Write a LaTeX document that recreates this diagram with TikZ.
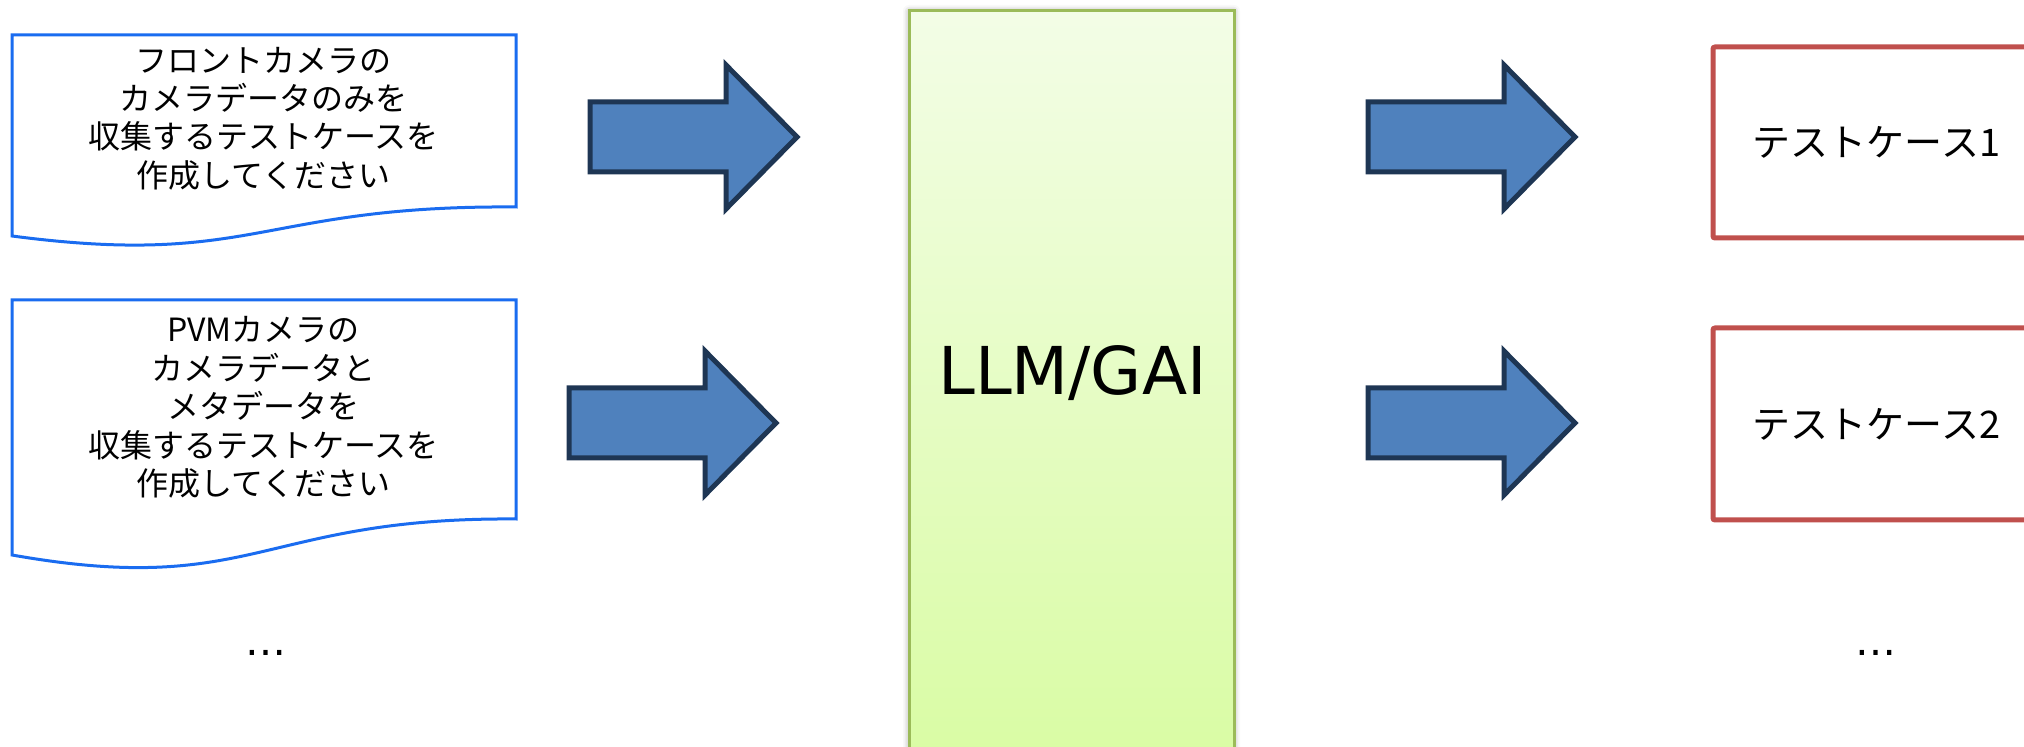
\documentclass[tikz,border=0pt]{standalone}
\usepackage{fontspec}
\usetikzlibrary{shadows.blur}
\newfontfamily\jpfont{Noto Sans CJK JP}
\newfontfamily\latinfont{DejaVu Sans}
\definecolor{docBlue}{RGB}{26,108,240}
\definecolor{arrowFill}{RGB}{79,129,189}
\definecolor{arrowLine}{RGB}{30,54,84}
\definecolor{llmLine}{RGB}{155,187,89}
\definecolor{llmTop}{RGB}{243,253,230}
\definecolor{llmBottom}{RGB}{217,252,164}
\definecolor{caseRed}{RGB}{192,80,77}

\tikzset{
  doctext/.style={align=center,font=\jpfont\fontsize{16}{19.2}\selectfont,inner sep=0pt},
  docframe/.style={draw=docBlue,line width=1.5pt,fill=white},
  bigarrow/.style={draw=arrowLine,fill=arrowFill,line width=2.5pt},
  llmbox/.style={draw=llmLine,line width=1.5pt,top color=llmTop,bottom color=llmBottom,
    minimum width=162.5pt,minimum height=374.5pt,inner sep=0pt,
    blur shadow={shadow xshift=0pt,shadow yshift=0pt,shadow blur radius=3pt}},
  llmlabel/.style={font=\latinfont\fontsize{33}{40}\selectfont,inner sep=0pt,anchor=base},
  casebox/.style={draw=caseRed,line width=2.5pt,rounded corners=1pt,minimum width=163.5pt,
    font=\jpfont\fontsize{19}{23}\selectfont},
  moretext/.style={font=\latinfont\fontsize{20.5}{24}\selectfont,inner sep=0pt}
}

\begin{document}
\begin{tikzpicture}[x=0.5pt,y=-0.5pt]
\useasboundingbox (0,0) rectangle (2024,747);
\clip (0,0) rectangle (2024,747);

% requests
\draw[docframe] (12,35) -- (516,35) -- (516,207) .. controls (260,205) and (255,268) .. (12,236) -- cycle;
\node[doctext] (docA) at (263.5,118.5) {フロントカメラの\\カメラデータのみを\\収集するテストケースを\\作成してください};
\draw[docframe] (12,300) -- (516,300) -- (516,519) .. controls (260,517) and (255,598) .. (12,555) -- cycle;
\node[doctext] (docB) at (263.5,407.5) {PVMカメラの\\カメラデータと\\メタデータを\\収集するテストケースを\\作成してください};
\node[moretext] (moreDocs) at (266,653) {…};

% model
\node[llmbox] (llm) at (1071.5,385.5) {};
\node[llmlabel] (llmName) at (1072.5,395) {LLM/GAI};

% arrows
\foreach \ax/\ay in {590/137,569/423,1368/137,1368/423}
  \draw[bigarrow,shift={(\ax,\ay)}] (0,-35) -- (136,-35) -- (136,-72) -- (207,0) -- (136,72) -- (136,35) -- (0,35) -- cycle;

% results
\node[casebox,minimum height=95.5pt] (case1) at (1876.5,142.5) {テストケース1};
\node[casebox,minimum height=96pt] (case2) at (1876.5,424) {テストケース2};
\node[moretext] (moreCases) at (1876,653) {…};
\end{tikzpicture}
\end{document}
